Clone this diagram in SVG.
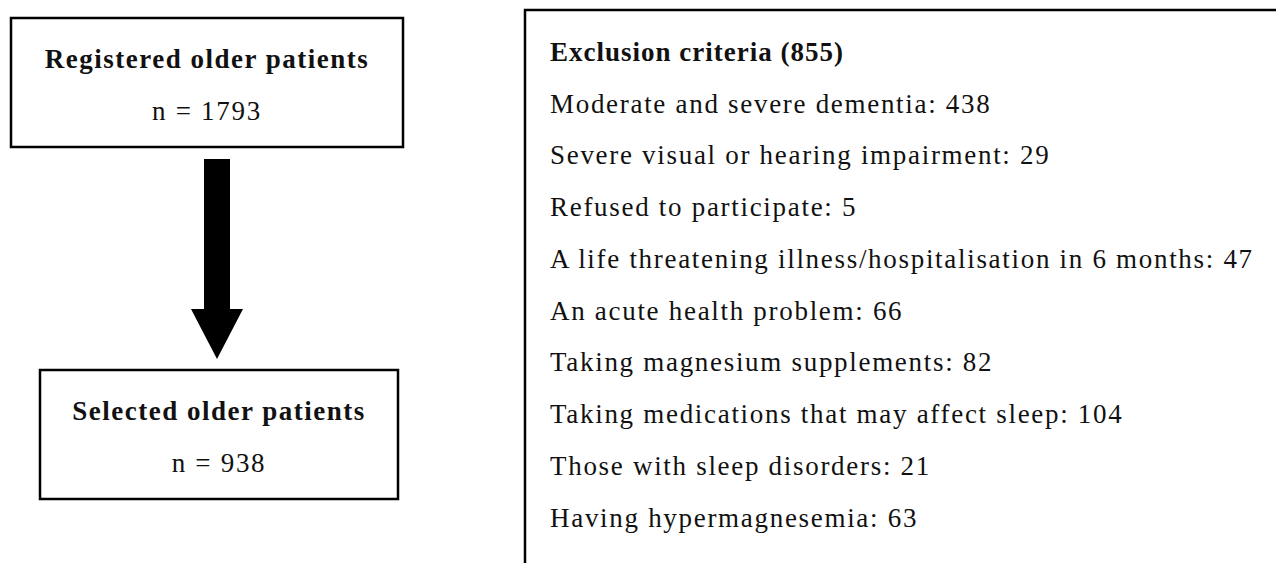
<svg xmlns="http://www.w3.org/2000/svg" width="1276" height="563" viewBox="0 0 1276 563">
<style>
.box{fill:#fff;stroke:#000;stroke-width:2.5}
.t{font-family:"Liberation Serif","Times New Roman",serif;font-size:27px;fill:#111;letter-spacing:1.7px}
.b{font-weight:bold;letter-spacing:1px}
.lb{letter-spacing:1.5px}
.c{text-anchor:middle}
</style>
<rect width="1276" height="563" fill="#fff"/>
<g id="registered">
<rect class="box" x="11" y="18" width="392" height="129"/>
<text class="t b lb c" x="207" y="68">Registered older patients</text>
<text class="t c" x="207" y="120">n = 1793</text>
</g>
<g id="connectors">
<polygon points="204,159 230,159 230,309 243,309 217,359 191,309 204,309" fill="#000"/>
</g>
<g id="selected">
<rect class="box" x="40" y="370" width="358" height="129"/>
<text class="t b lb c" x="219" y="420">Selected older patients</text>
<text class="t c" x="219" y="472">n = 938</text>
</g>
<g id="exclusion">
<rect class="box" x="525" y="10" width="800" height="600"/>
<text class="t b" x="550" y="61">Exclusion criteria (855)</text>
<text class="t" x="550" y="113">Moderate and severe dementia: 438</text>
<text class="t" x="550" y="164">Severe visual or hearing impairment: 29</text>
<text class="t" x="550" y="216">Refused to participate: 5</text>
<text class="t" x="550" y="268">A life threatening illness/hospitalisation in 6 months: 47</text>
<text class="t" x="550" y="320">An acute health problem: 66</text>
<text class="t" x="550" y="371">Taking magnesium supplements: 82</text>
<text class="t" x="550" y="423">Taking medications that may affect sleep: 104</text>
<text class="t" x="550" y="475">Those with sleep disorders: 21</text>
<text class="t" x="550" y="527">Having hypermagnesemia: 63</text>
</g>
</svg>
